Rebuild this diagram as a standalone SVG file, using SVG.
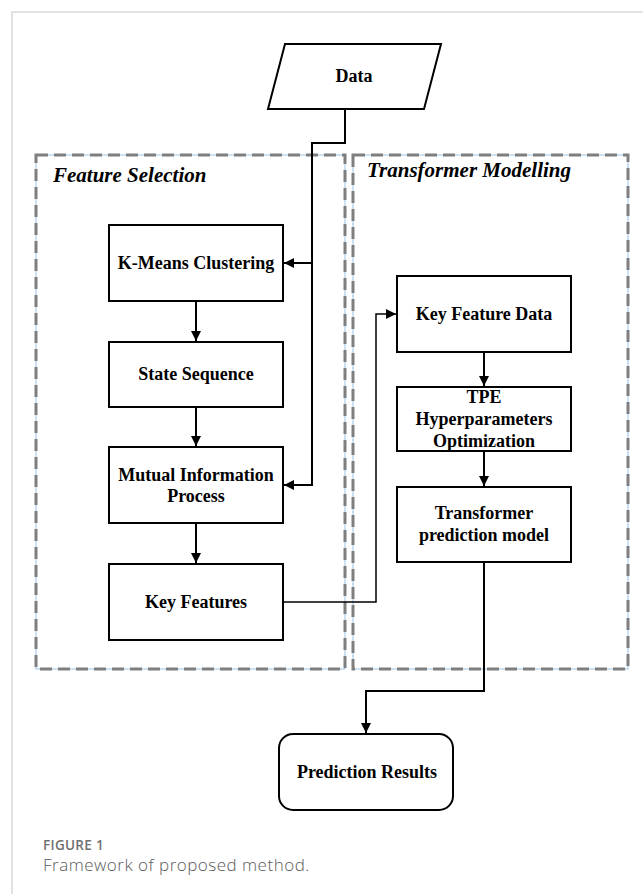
<svg xmlns="http://www.w3.org/2000/svg" width="643" height="894" viewBox="0 0 643 894">
<style>
.box{fill:#fff;stroke:#000;stroke-width:2}
.lbl{font-family:"Liberation Serif","Times New Roman",serif;font-weight:bold;font-size:18px;fill:#000;text-anchor:middle}
.ttl{font-family:"Liberation Serif","Times New Roman",serif;font-weight:bold;font-style:italic;font-size:21px;fill:#000}
.grp{fill:none;stroke:#7f7f7f;stroke-width:3;stroke-dasharray:12 6}
.grpb{fill:none;stroke:#9dc3e6;stroke-width:1}
.wire{fill:none;stroke:#000;stroke-width:2}
.thin{fill:none;stroke:#000;stroke-width:1.5}
</style>
<defs>
<marker id="ah" viewBox="0 0 10 10" refX="10" refY="5" markerWidth="5" markerHeight="5" orient="auto" markerUnits="strokeWidth">
<path d="M0,0 L10,5 L0,10 Z" fill="#000"/>
</marker>
<marker id="ah2" viewBox="0 0 10 10" refX="10" refY="5" markerWidth="6.7" markerHeight="6.7" orient="auto" markerUnits="strokeWidth">
<path d="M0,0 L10,5 L0,10 Z" fill="#000"/>
</marker>
</defs>
<rect width="643" height="894" fill="#fff"/>
<path d="M643,12 H12 V894" fill="none" stroke="#d9d9d9" stroke-width="1.5"/>

<g id="group-feature-selection">
<rect class="grpb" x="36" y="155" width="309" height="514"/>
<rect class="grp" x="36" y="155" width="309" height="514"/>
<text class="ttl" x="53" y="182">Feature Selection</text>
</g>
<g id="group-transformer-modelling">
<rect class="grpb" x="353" y="155" width="275" height="514"/>
<rect class="grp" x="353" y="155" width="275" height="514"/>
<text class="ttl" x="367" y="177">Transformer Modelling</text>
</g>

<g id="connectors">
<path class="wire" d="M345,109 V143 H312 V485 H284" marker-end="url(#ah)"/>
<path class="wire" d="M312,263 H284" marker-end="url(#ah)"/>
<path class="wire" d="M196,301 V341" marker-end="url(#ah)"/>
<path class="wire" d="M196,407 V446" marker-end="url(#ah)"/>
<path class="wire" d="M196,523 V563" marker-end="url(#ah)"/>
<path class="thin" d="M283,602 H376 V314 H396" marker-end="url(#ah2)"/>
<path class="wire" d="M484,352 V386" marker-end="url(#ah)"/>
<path class="wire" d="M484,451 V486" marker-end="url(#ah)"/>
<path class="wire" d="M484,562 V691 H366 V733" marker-end="url(#ah)"/>
</g>

<g id="node-data">
<polygon class="box" points="285,44 441,44 424,109 268,109"/>
<text class="lbl" x="354" y="82" font-size="19">Data</text>
</g>
<g id="node-kmeans">
<rect class="box" x="109" y="225" width="174" height="76"/>
<text class="lbl" x="196" y="269">K-Means Clustering</text>
</g>
<g id="node-state-sequence">
<rect class="box" x="109" y="342" width="174" height="65"/>
<text class="lbl" x="196" y="380">State Sequence</text>
</g>
<g id="node-mutual-information">
<rect class="box" x="109" y="447" width="174" height="76"/>
<text class="lbl" x="196" y="481">Mutual Information</text>
<text class="lbl" x="196" y="502">Process</text>
</g>
<g id="node-key-features">
<rect class="box" x="109" y="564" width="174" height="76"/>
<text class="lbl" x="196" y="608">Key Features</text>
</g>
<g id="node-key-feature-data">
<rect class="box" x="397" y="276" width="174" height="76"/>
<text class="lbl" x="484" y="320">Key Feature Data</text>
</g>
<g id="node-tpe">
<rect class="box" x="397" y="387" width="174" height="64"/>
<text class="lbl" x="484" y="403">TPE</text>
<text class="lbl" x="484" y="425">Hyperparameters</text>
<text class="lbl" x="484" y="447">Optimization</text>
</g>
<g id="node-transformer-model">
<rect class="box" x="397" y="487" width="174" height="75"/>
<text class="lbl" x="484" y="519">Transformer</text>
<text class="lbl" x="484" y="541">prediction model</text>
</g>
<g id="node-prediction-results">
<rect class="box" x="279" y="734" width="174" height="76" rx="14" ry="14"/>
<text class="lbl" x="367" y="778">Prediction Results</text>
</g>

<g id="caption">
<text x="43" y="850" font-family="'Open Sans','Noto Sans',sans-serif" font-weight="600" font-size="13.5" letter-spacing="0.3" fill="#707070">FIGURE 1</text>
<text x="43" y="871" font-family="'Open Sans','Noto Sans',sans-serif" font-weight="300" font-size="17" letter-spacing="0.5" fill="#5a5a5a">Framework of proposed method.</text>
</g>
</svg>
